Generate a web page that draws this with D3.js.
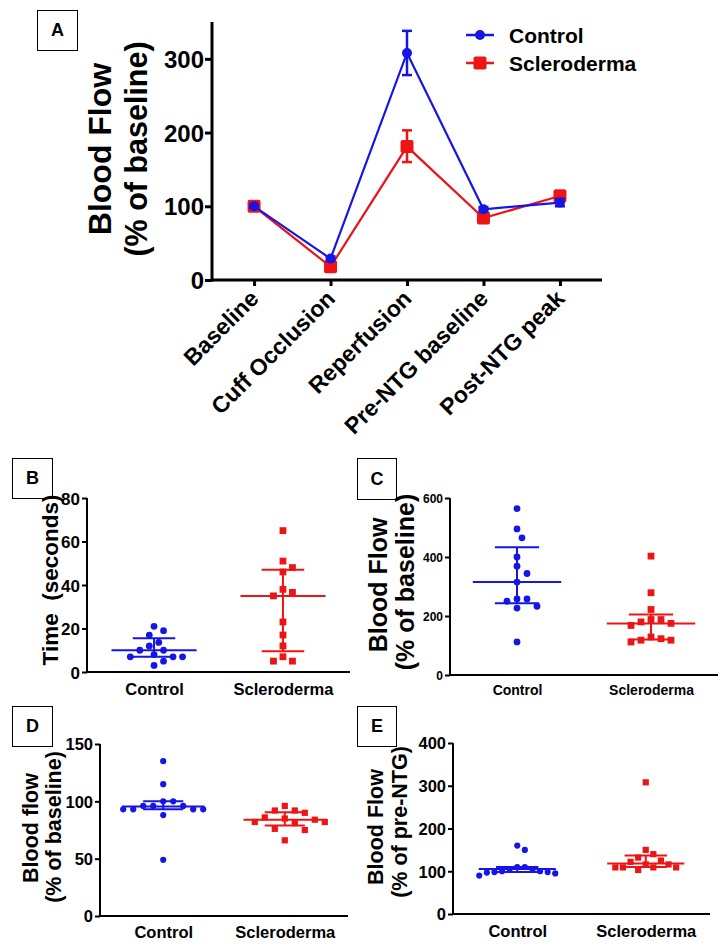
<!DOCTYPE html>
<html><head><meta charset="utf-8">
<script src="https://cdn.jsdelivr.net/npm/d3@7"></script>
<style>
body{margin:0;background:#fff}
svg text{font-family:"Liberation Sans",Arial,Helvetica,sans-serif;font-weight:bold;fill:#000}
</style>
</head><body>
<svg id="chart" width="727" height="951"></svg>
<script>
const BLUE = "#1515e6", RED = "#ec1414";

// ---------- Panel A data ----------
const stages = ["Baseline", "Cuff Occlusion", "Reperfusion", "Pre-NTG baseline", "Post-NTG peak"];
const controlMean = [100, 29, 308, 96, 105];
const controlLow  = [98, 26, 278, 93, 100];
const controlHigh = [102, 32, 338, 99, 110];
const sclMean = [100, 18, 181, 84, 114];
const sclLow  = [97, 15, 160, 81, 107];
const sclHigh = [103, 21, 203, 87, 121];
const aTicks = [0, 100, 200, 300];
const seriesNames = ["Control", "Scleroderma"];

// ---------- Panels B-E data ----------
const groups = ["Control", "Scleroderma"];
const bControl = [21, 19, 17, 13.6, 12, 10, 10, 8, 7, 7, 7, 5, 3];
const bScl     = [65, 51, 48, 46, 38, 36.6, 35, 23, 17, 12, 7, 5, 5];
const bControlStats = [10, 7, 15.5];    // median, lower, upper
const bSclStats     = [35, 9.5, 47];
const bTicks = [0, 20, 40, 60, 80];

const cControl = [564, 495, 465, 400, 369, 344, 315, 258, 258, 250, 233, 227, 112];
const cScl     = [403, 279, 222, 188, 188, 180, 175, 168, 129, 123, 118, 118, 112];
const cControlStats = [315, 243, 433];
const cSclStats     = [175, 120, 205];
const cTicks = [0, 200, 400, 600];

const dControl = [135, 115, 100, 100, 96, 96, 96, 93, 93, 93, 93, 88, 49];
const dScl     = [96, 92, 92, 90, 86, 85, 84, 82, 82, 81, 76, 75, 66];
const dControlStats = [95.5, 93, 100];
const dSclStats     = [84, 79, 90.5];
const dTicks = [0, 50, 100, 150];

const eControl = [160, 150, 110, 110, 105, 105, 100, 100, 98, 98, 97, 95, 90];
const eScl     = [308, 150, 140, 132, 125, 122, 116, 116, 109, 109, 109, 109, 103];
const eControlStats = [105, 98, 110];
const eSclStats     = [118, 110, 137];
const eTicks = [0, 100, 200, 300, 400];

const svg = d3.select("#chart");
svg.append("rect").attr("width", 727).attr("height", 951).attr("fill", "#fff");

function letterBox(x, y, w, h, label, fs) {
  svg.append("rect").attr("x", x + 0.5).attr("y", y + 0.5).attr("width", w).attr("height", h)
    .attr("fill", "none").attr("stroke", "#000").attr("stroke-width", 1);
  svg.append("text").attr("x", x + w / 2 + 0.5).attr("y", y + h / 2 + fs * 0.36)
    .attr("text-anchor", "middle").style("font-size", fs + "px").text(label);
}

function vTitle(cx, cy, txt, fs) {
  svg.append("text").attr("transform", `translate(${cx},${cy}) rotate(-90)`)
    .attr("text-anchor", "middle").style("font-size", fs + "px").style("white-space", "pre").text(txt);
}

// ================= Panel A =================
(function () {
  letterBox(37, 10, 40, 40, "A", 18);
  const x = d3.scalePoint().domain(stages).range([212, 602]).padding(0.55);
  const y = d3.scaleLinear().domain([0, 350]).range([280, 22]);
  const g = svg.append("g");

  const ya = g.append("g").attr("transform", "translate(212,0)")
    .call(d3.axisLeft(y).tickValues(aTicks).tickSize(7).tickSizeOuter(0).tickPadding(1));
  ya.select(".domain").attr("stroke-width", 3).attr("d", `M0,${y(0) + 1.5}V${y(350)}`);
  ya.selectAll(".tick line").attr("stroke-width", 3);
  ya.selectAll("text").style("font-size", "24px").attr("dy", "0.36em");

  const xa = g.append("g").attr("transform", "translate(0,280)")
    .call(d3.axisBottom(x).tickSize(6).tickSizeOuter(0).tickFormat(""));
  xa.select(".domain").attr("stroke-width", 3).attr("d", "M210.5,0H602");
  xa.selectAll(".tick line").attr("stroke-width", 3);
  stages.forEach(s => {
    g.append("text").attr("transform", `translate(${x(s) + 6},${300}) rotate(-45)`)
      .attr("text-anchor", "end").style("font-size", "23px").text(s);
  });

  vTitle(111, 149, "Blood Flow", 32);
  vTitle(147, 149, "(% of baseline)", 30.5);

  const line = d3.line().x((d, i) => x(stages[i])).y(d => y(d));
  const series = [
    { name: seriesNames[1], mean: sclMean, lo: sclLow, hi: sclHigh, color: RED, sq: true },
    { name: seriesNames[0], mean: controlMean, lo: controlLow, hi: controlHigh, color: BLUE, sq: false }
  ];
  series.forEach(s => {
    g.append("path").datum(s.mean).attr("d", line).attr("fill", "none")
      .attr("stroke", s.color).attr("stroke-width", 2.2);
    s.mean.forEach((m, i) => {
      const cx = x(stages[i]);
      const eb = g.append("g").attr("stroke", s.color).attr("stroke-width", 2.5);
      eb.append("line").attr("x1", cx).attr("x2", cx).attr("y1", y(s.lo[i])).attr("y2", y(s.hi[i]));
      [s.lo[i], s.hi[i]].forEach(v => eb.append("line").attr("x1", cx - 5).attr("x2", cx + 5)
        .attr("y1", y(v)).attr("y2", y(v)));
      if (s.sq) {
        g.append("rect").attr("x", cx - 6.5).attr("y", y(m) - 6.5).attr("width", 13).attr("height", 13)
          .attr("rx", 2).attr("fill", s.color);
      } else {
        g.append("circle").attr("cx", cx).attr("cy", y(m)).attr("r", 5).attr("fill", s.color);
      }
    });
  });

  // legend
  const leg = [{ n: seriesNames[0], c: BLUE, sq: false, y: 35 }, { n: seriesNames[1], c: RED, sq: true, y: 63 }];
  leg.forEach(l => {
    g.append("line").attr("x1", 466).attr("x2", 494).attr("y1", l.y).attr("y2", l.y)
      .attr("stroke", l.c).attr("stroke-width", 2.5);
    if (l.sq) g.append("rect").attr("x", 480 - 6.5).attr("y", l.y - 6.5).attr("width", 13).attr("height", 13)
      .attr("rx", 2).attr("fill", l.c);
    else g.append("circle").attr("cx", 480).attr("cy", l.y).attr("r", 5).attr("fill", l.c);
    g.append("text").attr("x", 509).attr("y", l.y + 7.5).style("font-size", "21px").text(l.n);
  });
})();

// ================= Dot panels =================
// simple GraphPad-like horizontal spreading of points with similar values
function swarm(vals, y, sx, sy, stepX) {
  const placed = [];
  const cands = [0];
  for (let j = 1; j < 40; j++) { cands.push(j * stepX); cands.push(-j * stepX); }
  return vals.map(v => {
    const py = y(v);
    let off = 0;
    for (const c of cands) {
      if (placed.every(p => ((p.x - c) / sx) ** 2 + ((p.y - py) / sy) ** 2 >= 1)) { off = c; break; }
    }
    placed.push({ x: off, y: py });
    return { dx: off, y: py };
  });
}

function dotPanel(o) {
  const g = svg.append("g");
  const y = d3.scaleLinear().domain([0, o.max]).range([o.y0, o.yTop]);
  const x = d3.scalePoint().domain(groups).range([o.ax, o.xEnd]).padding(o.pad);
  const ya = g.append("g").attr("transform", `translate(${o.ax},0)`)
    .call(d3.axisLeft(y).tickValues(o.ticks).tickSize(5).tickSizeOuter(0).tickPadding(2));
  ya.select(".domain").attr("stroke-width", 2).attr("d", `M0,${o.y0 + 1}V${o.yTop}`);
  ya.selectAll(".tick line").attr("stroke-width", 2);
  ya.selectAll("text").style("font-size", o.tickFs + "px").attr("dy", "0.36em");

  const xa = g.append("g").attr("transform", `translate(0,${o.y0})`)
    .call(d3.axisBottom(x).tickSize(0).tickSizeOuter(0).tickPadding(o.catPad));
  xa.select(".domain").attr("stroke-width", 2).attr("d", `M${o.ax - 1},0H${o.xEnd}`);
  xa.selectAll("text").style("font-size", o.catFs + "px");

  const step = x.step();
  const sets = [
    { vals: o.c, st: o.cs, color: BLUE, sq: false, name: groups[0] },
    { vals: o.s, st: o.ss, color: RED, sq: true, name: groups[1] }
  ];
  sets.forEach(s => {
    const cx = x(s.name);
    const pos = swarm(s.vals, y, o.sx, o.sy, o.sx / 2);
    pos.forEach(p => {
      if (s.sq) g.append("rect").attr("x", cx + p.dx - o.r).attr("y", p.y - o.r)
        .attr("width", 2 * o.r).attr("height", 2 * o.r).attr("fill", s.color);
      else g.append("circle").attr("cx", cx + p.dx).attr("cy", p.y).attr("r", o.r).attr("fill", s.color);
    });
    const eb = g.append("g").attr("stroke", s.color).attr("stroke-width", 2);
    const mw = step * o.mw / 2, cw = step * 0.33 / 2;
    eb.append("line").attr("x1", cx - mw).attr("x2", cx + mw).attr("y1", y(s.st[0])).attr("y2", y(s.st[0]));
    eb.append("line").attr("x1", cx).attr("x2", cx).attr("y1", y(s.st[1])).attr("y2", y(s.st[2]));
    [s.st[1], s.st[2]].forEach(v => eb.append("line").attr("x1", cx - cw).attr("x2", cx + cw)
      .attr("y1", y(v)).attr("y2", y(v)));
  });
}

// Panel B
letterBox(12, 458, 40, 40, "B", 18);
dotPanel({ ax: 87, xEnd: 350, y0: 672, yTop: 498, max: 80, ticks: bTicks, pad: 0.52, mw: 0.66,
  tickFs: 17, catFs: 16.5, catPad: 11, c: bControl, s: bScl, cs: bControlStats, ss: bSclStats,
  r: 3.4, sx: 9.5, sy: 9 });
vTitle(58, 580, "Time  (seconds)", 22.5);

// Panel C
letterBox(357, 458, 39, 41, "C", 18);
dotPanel({ ax: 450, xEnd: 718, y0: 675, yTop: 498, max: 600, ticks: cTicks, pad: 0.5, mw: 0.66,
  tickFs: 12, catFs: 14, catPad: 10, c: cControl, s: cScl, cs: cControlStats, ss: cSclStats,
  r: 3.4, sx: 10, sy: 9 });
vTitle(387, 585, "Blood Flow", 25);
vTitle(414, 582, "(% of baseline)", 25);

// Panel D
letterBox(12, 706, 40, 40, "D", 18);
dotPanel({ ax: 100, xEnd: 348, y0: 916, yTop: 744, max: 150, ticks: dTicks, pad: 0.52, mw: 0.68,
  tickFs: 16.5, catFs: 16.5, catPad: 10, c: dControl, s: dScl, cs: dControlStats, ss: dSclStats,
  r: 3.1, sx: 10, sy: 12 });
vTitle(38, 828, "Blood flow", 21.5);
vTitle(61, 827, "(% of baseline)", 21.5);

// Panel E
letterBox(357, 706, 39, 40, "E", 18);
dotPanel({ ax: 453, xEnd: 710, y0: 914, yTop: 743, max: 400, ticks: eTicks, pad: 0.5, mw: 0.6,
  tickFs: 16.5, catFs: 16.5, catPad: 11, c: eControl, s: eScl, cs: eControlStats, ss: eSclStats,
  r: 3.1, sx: 7.6, sy: 12 });
vTitle(383, 827, "Blood Flow", 21.5);
vTitle(407, 822, "(% of pre-NTG)", 21.5);
</script>
</body></html>
